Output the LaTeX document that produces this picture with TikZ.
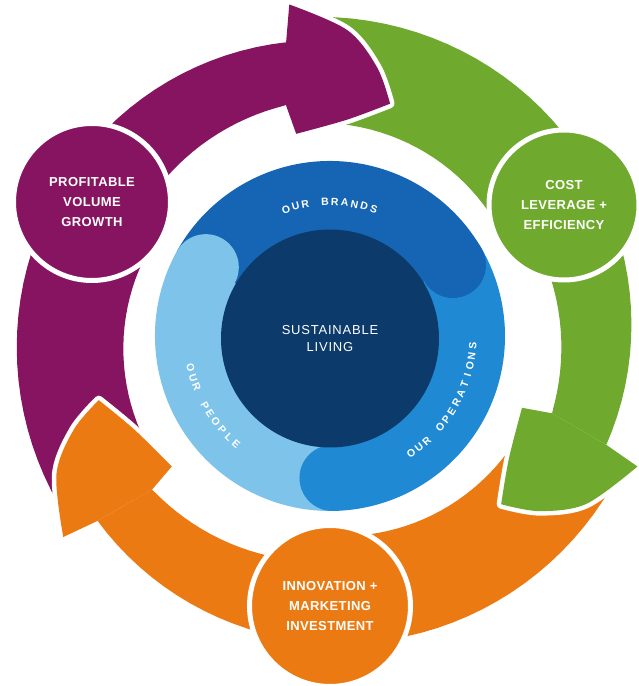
\documentclass[tikz,border=0pt]{standalone}
\usepackage{fontspec}
\setmainfont{Liberation Sans}
\newfontfamily\stagefont[LetterSpace=3]{Liberation Sans}
\newfontfamily\corefont[LetterSpace=6]{Liberation Sans}

\definecolor{cpurple}{HTML}{861460}
\definecolor{cgreen}{HTML}{6FAA2E}
\definecolor{corange}{HTML}{EC7A12}
\definecolor{cbrands}{HTML}{1565B4}
\definecolor{coper}{HTML}{1F8AD3}
\definecolor{cpeople}{HTML}{7EC3EA}
\definecolor{cinner}{HTML}{0C3A6B}

\begin{document}
\begin{tikzpicture}[x=1pt,y=1pt,
  stage/.style={circle, draw=white, line width=5pt, inner sep=0pt,
    text=white, align=center,
    font=\stagefont\bfseries\fontsize{13}{20}\selectfont},
  ringtxt/.style={text=white, inner sep=0pt, anchor=center,
    font=\bfseries\fontsize{10.5}{11}\selectfont},
  % outline of one arrow head, drawn in the frame of the purple arrow
  tipoutline/.style={insert path={(98.5:297)
    -- plot[smooth, tension=0.55] coordinates {(97:334) (86.8:306.5) (80.1:273) (75.5:240)}
    -- plot[smooth, tension=0.55] coordinates {(75.5:240) (85.5:217) (99.5:205)}
    -- (100.8:235)}}]

\useasboundingbox (0,0) rectangle (639,686);
\fill[white] (0,0) rectangle (639,686);

\coordinate (C) at (330,350);

% ---- central disc: brands / operations / people around sustainable living
\begin{scope}[shift={(C)}]
  \fill[cbrands] (0,0) -- (30:175) arc[start angle=30, end angle=151, radius=175] -- cycle;
  \fill[coper] (0,0) -- (-89:175) arc[start angle=-89, end angle=30, radius=175] -- cycle;
  \fill[cpeople] (0,0) -- (151:175) arc[start angle=151, end angle=271, radius=175] -- cycle;
  % rounded leading ends of the three bands
  \fill[cbrands] (30:142) circle[radius=33];
  \fill[coper] (-89:142) circle[radius=33];
  \fill[cpeople] (151:142) circle[radius=33];

  \foreach \ch [count=\i] in {O,U,R,{},B,R,A,N,D,S}
    \node[ringtxt, rotate={109.1-4.24*(\i-1)-90}] (brands-\i)
      at ({109.1-4.24*(\i-1)}:134) {\ch};
  \foreach \ch [count=\i] in {O,U,R,{},O,P,E,R,A,T,I,O,N,S}
    \node[ringtxt, rotate={-55.4+3.95*(\i-1)+90}] (oper-\i)
      at ({-55.4+3.95*(\i-1)}:143) {\ch};
  \foreach \ch [count=\i] in {O,U,R,{},P,E,O,P,L,E}
    \node[ringtxt, rotate={193+4*(\i-1)+90}] (people-\i)
      at ({193+4*(\i-1)}:143) {\ch};
\end{scope}

\node[circle, fill=cinner, minimum size=218pt, inner sep=0pt, text=white,
  align=center, font=\corefont\fontsize{13}{17}\selectfont]
  (core) at (330,347.5) {SUSTAINABLE\\LIVING};

% ---- the three curved arrows of the cycle
\begin{scope}[shift={(C)}]
  \foreach \ang/\col in {0/cpurple,-120/cgreen,-240/corange}{
    \fill[\col, rotate=\ang]
      plot[domain=215:150, samples=25] (\x:{203+(\x-165)*0.22})
      -- plot[domain=150:100.8, samples=20] (\x:{235+(100.5-\x)*0.2})
      -- (98.5:297)
      -- plot[domain=98.5:215, samples=40] (\x:{297+(\x-98.5)*0.197})
      -- cycle;
  }
  \foreach \ang/\col in {0/cpurple,-120/cgreen,-240/corange}{
    \draw[white, line width=9pt, line join=round, rotate=\ang, tipoutline];
    \fill[\col, rotate=\ang, tipoutline];
  }
\end{scope}

% ---- stage circles
\node[stage, fill=cpurple, minimum size=157pt] (growth) at (92,484)
  {PROFITABLE\\VOLUME\\GROWTH};
\node[stage, fill=cgreen, minimum size=150pt] (cost) at (564,481)
  {COST\\LEVERAGE +\\EFFICIENCY};
\node[stage, fill=corange, minimum size=161pt] (innovation) at (330,80)
  {INNOVATION +\\MARKETING\\INVESTMENT};
\end{tikzpicture}
\end{document}
